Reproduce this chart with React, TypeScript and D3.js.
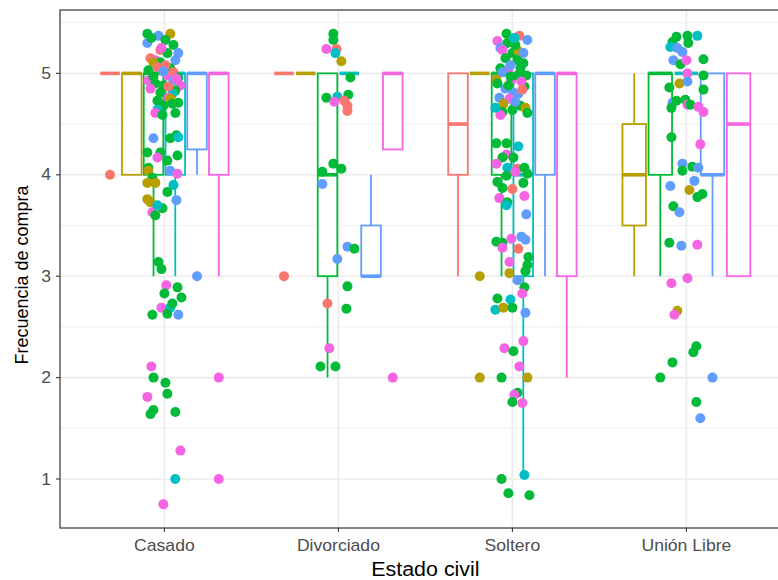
import * as d3 from "d3";

const categories = ["Casado", "Divorciado", "Soltero", "Unión Libre"];
const groupColors = ["#F8766D", "#B79F00", "#00BA38", "#00BFC4", "#619CFF", "#F564E3"];
const yTicks = [1, 2, 3, 4, 5];

// [category, group, lowerWhisker, q1, median, q3, upperWhisker]
const boxStats = [
  [0, 0, 5, 5, 5, 5, 5],
  [0, 1, 4, 4, 5, 5, 5],
  [0, 2, 3, 4, 5, 5, 5],
  [0, 3, 3, 4, 5, 5, 5],
  [0, 4, 4, 4.25, 5, 5, 5],
  [0, 5, 3, 4, 5, 5, 5],
  [1, 0, 5, 5, 5, 5, 5],
  [1, 1, 5, 5, 5, 5, 5],
  [1, 2, 2, 3, 4, 5, 5],
  [1, 3, 5, 5, 5, 5, 5],
  [1, 4, 3, 3, 3, 3.5, 4],
  [1, 5, 4.25, 4.25, 5, 5, 5],
  [2, 0, 3, 4, 4.5, 5, 5],
  [2, 1, 5, 5, 5, 5, 5],
  [2, 2, 3, 4, 5, 5, 5],
  [2, 3, 1, 3, 4, 5, 5],
  [2, 4, 3, 4, 5, 5, 5],
  [2, 5, 2, 3, 5, 5, 5],
  [3, 1, 3, 3.5, 4, 4.5, 5],
  [3, 2, 3, 4, 5, 5, 5],
  [3, 3, 5, 5, 5, 5, 5],
  [3, 4, 3, 4, 4, 5, 5],
  [3, 5, 3, 3, 4.5, 5, 5],
];

// [category, group, value]
const outliers = [
  [0, 0, 4], [0, 2, 2], [0, 3, 1], [0, 4, 3], [0, 5, 2], [0, 5, 1],
  [1, 0, 3], [1, 5, 2],
  [2, 1, 3], [2, 1, 2], [2, 2, 2], [2, 2, 1],
  [3, 2, 2], [3, 4, 2],
];

// jittered points: [group, x offset (category units), y]
const casadoPts = [
  [2,-0.098,5.39],[4,-0.034,5.37],[1,0.034,5.39],[4,-0.098,5.30],[2,0.052,5.28],[0,-0.023,5.23],
  [4,0.080,5.20],[2,0.017,5.20],[0,-0.080,5.15],[5,-0.052,5.13],[2,-0.023,5.11],[4,0.063,5.13],
  [1,-0.063,5.11],[2,-0.092,5.03],[0,-0.040,5.06],[2,0.034,5.05],[5,0.017,4.98],[0,0.052,5.01],
  [2,0.080,4.96],[5,-0.092,4.93],[4,0.052,4.93],[2,-0.052,4.90],[5,0.092,4.88],[2,-0.006,4.88],
  [5,-0.080,4.85],[2,-0.023,4.81],[2,0.063,4.83],[3,0.046,4.80],[5,0.023,4.76],[2,-0.040,4.73],
  [1,0.034,4.75],[2,0.080,4.71],[2,-0.006,4.68],[3,-0.040,4.64],[5,-0.052,4.61],[2,0.063,4.61],
  [2,-0.011,4.59],[2,-0.075,5.35],[2,0.006,5.33],[5,-0.017,5.25],[0,0.006,5.08],[2,-0.063,4.97],
  [4,-0.006,5.02],[2,0.046,4.70],[5,0.069,4.95],[0,0.023,4.87],
  [4,-0.063,4.36],[2,0.034,4.36],[2,0.069,4.39],[2,-0.098,4.22],[2,-0.023,4.22],[3,0.080,4.37],
  [5,-0.040,4.17],[2,0.017,4.14],[2,0.075,4.19],[2,-0.092,4.07],[4,0.034,4.04],[5,0.075,4.01],
  [1,-0.092,4.04],[2,-0.069,3.97],[1,-0.098,3.92],[1,-0.052,3.92],[3,0.052,3.90],[2,0.017,3.83],
  [4,0.069,3.75],[1,-0.098,3.76],[1,-0.080,3.73],[5,-0.069,3.63],[2,-0.052,3.60],[2,-0.011,3.67],
  [3,-0.040,3.70],[2,-0.034,3.14],[2,-0.017,3.07],[5,0.011,2.91],[2,0.075,2.89],[2,0.000,2.83],
  [2,0.098,2.79],[5,-0.017,2.69],[3,0.034,2.69],[2,0.046,2.73],[2,-0.069,2.62],[2,0.017,2.63],
  [4,0.080,2.62],[5,-0.075,2.11],[2,0.006,1.95],[5,-0.098,1.81],[2,0.017,1.84],[2,-0.063,1.68],
  [2,-0.080,1.64],[2,0.063,1.66],[5,0.092,1.28],[5,-0.006,0.75],
];

const divorciadoPts = [
  [2,-0.029,5.39],[2,-0.029,5.33],[5,-0.069,5.24],[0,-0.011,5.24],[3,-0.017,5.20],[1,0.017,5.12],
  [2,0.069,4.96],[2,-0.069,4.76],[3,-0.006,4.77],[2,0.057,4.79],[5,-0.023,4.72],[0,0.034,4.73],
  [0,0.052,4.68],[0,0.052,4.63],[2,-0.029,4.11],[2,0.017,4.06],[2,-0.092,4.03],[4,-0.092,3.91],
  [4,0.052,3.29],[2,0.092,3.27],[4,-0.006,3.17],[2,0.052,2.90],[0,-0.063,2.73],[2,0.046,2.68],
  [5,-0.052,2.29],[2,-0.103,2.11],[2,-0.017,2.11],
];

const solteroPts = [
  [2,-0.034,5.39],[0,0.040,5.37],[5,-0.086,5.32],[4,0.086,5.33],[2,-0.029,5.30],[4,-0.069,5.25],
  [5,-0.057,5.23],[2,0,5.20],[1,0.034,5.22],[4,0.063,5.20],[2,-0.040,5.15],[2,0.029,5.13],
  [2,0.063,5.10],[2,-0.069,5.05],[5,-0.023,5.03],[4,-0.057,5.01],[2,0.046,5.05],[2,0.080,4.98],
  [1,-0.092,4.94],[5,-0.006,4.93],[2,0.029,4.98],[4,-0.040,4.85],[4,0.006,4.81],[2,-0.023,4.88],
  [2,0.069,4.87],[4,-0.075,4.76],[5,-0.017,4.75],[4,0.034,4.80],[1,-0.052,4.70],[2,0.046,4.68],
  [1,0.075,4.66],[2,-0.057,4.62],[5,-0.069,4.59],[2,0.086,4.61],[3,-0.098,4.66],[2,0,4.64],
  [2,0.017,5.28],[4,-0.011,5.08],[2,-0.086,4.90],[5,0.052,4.92],[4,0.017,4.72],[2,-0.011,4.97],
  [0,0.057,4.84],[3,0.011,5.35],
  [2,-0.092,4.31],[2,-0.034,4.31],[3,0.034,4.28],[5,-0.034,4.20],[2,-0.057,4.17],[2,0.006,4.17],
  [5,-0.092,4.11],[3,-0.029,4.07],[0,0.029,4.06],[2,0.069,4.07],[2,0.086,4.01],[2,-0.034,3.99],
  [5,0.017,4.03],[2,-0.086,3.93],[2,0.063,3.92],[0,0,3.86],[2,-0.057,3.87],[5,-0.075,3.77],
  [2,-0.029,3.73],[5,0.069,3.79],[4,0.080,3.61],[3,-0.034,3.70],[2,-0.092,3.34],[2,-0.057,3.33],
  [5,-0.057,3.28],[5,-0.006,3.37],[4,0.052,3.39],[4,0.075,3.36],[0,0.034,3.27],[5,-0.017,3.14],
  [2,0.092,3.19],[2,0.086,3.11],[2,0.075,3.05],[1,-0.017,3.03],[4,0.029,2.96],[2,0.069,2.89],
  [5,0.057,2.83],[2,-0.086,2.78],[3,-0.011,2.77],[3,-0.098,2.67],[1,-0.052,2.69],[2,0,2.69],
  [4,0.075,2.64],[5,0.063,2.36],[5,-0.046,2.29],[2,0.006,2.26],[5,0.040,2.11],[1,0.086,2.00],
  [2,0.029,1.85],[5,0.011,1.83],[2,0,1.76],[5,0.057,1.75],[3,0.069,1.04],[2,-0.023,0.86],
  [2,0.098,0.84],
];

const unionPts = [
  [2,-0.057,5.36],[2,0.006,5.37],[3,0.063,5.37],[2,-0.080,5.31],[2,0.011,5.30],[3,-0.092,5.26],
  [4,-0.052,5.25],[4,-0.023,5.21],[4,-0.075,5.13],[2,-0.034,5.09],[5,0,5.13],[2,0.098,5.14],
  [5,0.006,5.00],[2,0.098,4.98],[1,-0.040,4.90],[4,0.006,4.92],[2,-0.098,4.86],[2,0.098,4.84],
  [4,-0.080,4.71],[2,-0.057,4.73],[2,-0.006,4.74],[5,0.006,4.69],[2,0.023,4.69],[2,-0.086,4.66],
  [5,0.069,4.67],[5,0.098,4.62],[2,-0.086,4.37],[5,0.080,4.30],[4,-0.023,4.11],[2,0.034,4.08],
  [2,-0.023,4.04],[4,0.069,4.07],[4,-0.092,3.89],[4,0.046,3.94],[1,0.017,3.85],[2,0.063,3.78],
  [2,0.092,3.81],[2,-0.075,3.69],[4,-0.040,3.63],[2,-0.098,3.33],[4,-0.029,3.30],[5,0.063,3.31],
  [5,0.006,2.98],[5,-0.086,2.93],[1,-0.052,2.66],[5,-0.069,2.62],[2,0.057,2.31],[2,0.040,2.25],
  [2,-0.080,2.15],[2,0.057,1.76],[4,0.080,1.60],
];

const jitterSets = [casadoPts, divorciadoPts, solteroPts, unionPts];

const width = 778;
const height = 580;
const panel = { left: 60, top: 10, right: 790.8, bottom: 528 };
const dodgeWidth = 0.75;
const fontFamily = "Liberation Sans, Arial, Helvetica, sans-serif";
const stretch = 1.1; // the labels in the reference are a bit wider than Arial

const x = d3.scalePoint<string>().domain(categories).range([panel.left, panel.right]).padding(0.6);
const step = x.step();
const y = d3.scaleLinear().domain([0.517, 5.625]).range([panel.bottom, panel.top]);
const minorTicks = [1.5, 2.5, 3.5, 4.5, 5.5];

// dodge2-style placement of the boxes inside each category
const boxLayout = boxStats.map((b) => {
  const [cat, g] = b;
  const present = boxStats.filter((o) => o[0] === cat).map((o) => o[1]);
  const n = present.length;
  const k = present.indexOf(g);
  const slot = (dodgeWidth / n) * step;
  const cx = x(categories[cat])! - (dodgeWidth * step) / 2 + slot * (k + 0.5);
  return { cat, g, cx, w: slot * 0.9, lo: b[2], q1: b[3], med: b[4], q3: b[5], hi: b[6] };
});

const boxCenter = (cat: number, g: number) => boxLayout.find((b) => b.cat === cat && b.g === g)!.cx;

const App = () => {
  const lw = 1.8;
  return (
    <svg width={width} height={height} style={{ position: "absolute", left: 0, top: 0, background: "#fff" }}>
      <defs>
        <clipPath id="panel-clip">
          <rect x={panel.left} y={panel.top} width={panel.right - panel.left} height={panel.bottom - panel.top} />
        </clipPath>
      </defs>
      <g clipPath="url(#panel-clip)">
        {minorTicks.map((t) => (
          <line key={"mn" + t} x1={panel.left} x2={panel.right} y1={y(t)} y2={y(t)} stroke="#EBEBEB" strokeWidth={0.8} />
        ))}
        {yTicks.map((t) => (
          <line key={"mj" + t} x1={panel.left} x2={panel.right} y1={y(t)} y2={y(t)} stroke="#EBEBEB" strokeWidth={1.6} />
        ))}
        {categories.map((c) => (
          <line key={"vx" + c} x1={x(c)} x2={x(c)} y1={panel.top} y2={panel.bottom} stroke="#EBEBEB" strokeWidth={1.6} />
        ))}

        {boxLayout.map((b, i) => {
          const col = groupColors[b.g];
          const x0 = b.cx - b.w / 2;
          return (
            <g key={"box" + i}>
              <line x1={b.cx} x2={b.cx} y1={y(b.q3)} y2={y(b.hi)} stroke={col} strokeWidth={lw} />
              <line x1={b.cx} x2={b.cx} y1={y(b.q1)} y2={y(b.lo)} stroke={col} strokeWidth={lw} />
              <rect x={x0} y={y(b.q3)} width={b.w} height={Math.max(0, y(b.q1) - y(b.q3))} fill="#fff" stroke={col} strokeWidth={lw} />
              <line x1={x0} x2={x0 + b.w} y1={y(b.med)} y2={y(b.med)} stroke={col} strokeWidth={lw * 2} />
            </g>
          );
        })}

        {outliers.map(([cat, g, v], i) => (
          <circle key={"out" + i} cx={boxCenter(cat, g)} cy={y(v)} r={5} fill={groupColors[g]} />
        ))}

        {jitterSets.map((pts, cat) =>
          pts.map(([g, dx, v], i) => (
            <circle key={"j" + cat + "-" + i} cx={x(categories[cat])! + dx * step} cy={y(v)} r={5} fill={groupColors[g]} />
          ))
        )}
      </g>

      <rect x={panel.left} y={panel.top} width={panel.right - panel.left} height={panel.bottom - panel.top} fill="none" stroke="#333333" strokeWidth={1.2} />

      {yTicks.map((t) => (
        <g key={"yt" + t}>
          <line x1={panel.left - 4} x2={panel.left} y1={y(t)} y2={y(t)} stroke="#333333" strokeWidth={1.1} />
          <text transform={`translate(${panel.left - 9},${y(t)}) scale(${stretch},1)`} dy="0.35em" textAnchor="end" fontSize={16} fill="#4D4D4D" fontFamily={fontFamily}>
            {t}
          </text>
        </g>
      ))}
      {categories.map((c) => (
        <g key={"xt" + c}>
          <line x1={x(c)} x2={x(c)} y1={panel.bottom} y2={panel.bottom + 4} stroke="#333333" strokeWidth={1.1} />
          <text transform={`translate(${x(c)},${panel.bottom + 17}) scale(${stretch},1)`} dy="0.35em" textAnchor="middle" fontSize={16} fill="#4D4D4D" fontFamily={fontFamily}>
            {c}
          </text>
        </g>
      ))}

      <text transform={`translate(${(panel.left + panel.right) / 2},569) scale(${stretch},1)`} dy="0.35em" textAnchor="middle" fontSize={19.5} fill="#000" fontFamily={fontFamily}>
        Estado civil
      </text>
      <text transform={`translate(22,${(panel.top + panel.bottom) / 2 + 6}) rotate(-90)`} dy="0.35em" textAnchor="middle" fontSize={18} fill="#000" fontFamily={fontFamily}>
        Frecuencia de compra
      </text>
    </svg>
  );
};

export default App;
